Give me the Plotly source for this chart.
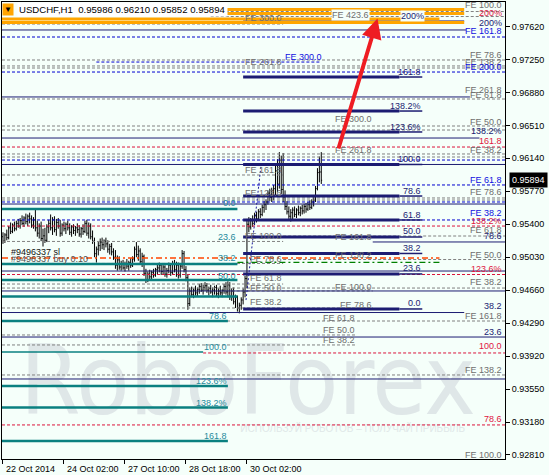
import plotly.graph_objects as go

# ---------------- data ----------------
tick_bars = [0, 32, 64, 96, 128]
tick_labels = ["22 Oct 2014", "24 Oct 02:00", "27 Oct 10:00", "28 Oct 18:00", "30 Oct 02:00"]
price_ticks = [0.97620, 0.97250, 0.96880, 0.96510, 0.96140, 0.95770, 0.95400,
               0.95030, 0.94660, 0.94290, 0.93920, 0.93550, 0.93180, 0.92810]
last_price = 0.95894
header = "USDCHF,H1  0.95986 0.96210 0.95852 0.95894"

opens = [.9526,.9521,.9528,.9525,.9536,.9532,.9539,.9535,.9541,.9538,
         .9544,.9541,.9547,.9543,.9549,.9546,.9539,.9545,.9536,.9530,
         .9538,.9524,.9527,.9522,.9537,.9541,.9536,.9545,.9534,.9542,
         .9538,.9530,.9539,.9535,.9540,.9536,.9531,.9537,.9533,.9536,
         .9534,.9529,.9535,.9532,.9541,.9530,.9538,.9526,.9521,.9507,
         .9512,.9516,.9520,.9517,.9521,.9518,.9512,.9515,.9509,.9503,
         .9494,.9500,.9492,.9496,.9491,.9495,.9493,.9497,.9494,.9501,
         .9512,.9506,.9510,.9498,.9504,.9485,.9478,.9484,.9481,.9486,
         .9483,.9489,.9491,.9494,.9487,.9492,.9484,.9488,.9494,.9486,
         .9496,.9489,.9494,.9483,.9493,.9507,.9489,.9480,.9451,.9465,
         .9461,.9466,.9463,.9467,.9470,.9466,.9469,.9471,.9466,.9468,
         .9464,.9466,.9469,.9462,.9465,.9463,.9466,.9470,.9464,.9472,
         .9459,.9465,.9453,.9458,.9446,.9449,.9455,.9464,.9479,.9540,
         .9537,.9544,.9541,.9550,.9546,.9554,.9551,.9559,.9562,.9565,
         .9575,.9570,.9578,.9580,.9600,.9585,.9612,.9579,.9570,.9560,
         .9554,.9549,.9553,.9556,.9551,.9556,.9553,.9558,.9555,.9560,
         .9557,.9562,.9559,.9565,.9567,.9580,.9598,.95986]
highs = [.9531,.9530,.9534,.9538,.9542,.9541,.9543,.9544,.9546,.9547,
         .9550,.9549,.9552,.9551,.9553,.9550,.9548,.9557,.9544,.9541,
         .9543,.9535,.9536,.9540,.9545,.9551,.9548,.9549,.9546,.9547,
         .9545,.9541,.9543,.9542,.9544,.9541,.9539,.9540,.9538,.9541,
         .9539,.9537,.9540,.9544,.9545,.9542,.9541,.9533,.9525,.9515,
         .9520,.9524,.9525,.9523,.9525,.9522,.9518,.9519,.9513,.9511,
         .9505,.9504,.9499,.9500,.9498,.9501,.9499,.9502,.9504,.9515,
         .9520,.9516,.9513,.9508,.9506,.9490,.9487,.9489,.9488,.9490,
         .9491,.9495,.9497,.9496,.9495,.9494,.9491,.9497,.9496,.9499,
         .9500,.9498,.9497,.9496,.9511,.9510,.9493,.9484,.9469,.9470,
         .9468,.9471,.9469,.9473,.9474,.9472,.9475,.9474,.9470,.9472,
         .9469,.9471,.9472,.9468,.9471,.9467,.9473,.9475,.9476,.9475,
         .9468,.9469,.9461,.9460,.9452,.9458,.9468,.9482,.9546,.9548,
         .9547,.9550,.9553,.9554,.9557,.9558,.9562,.9566,.9568,.9578,
         .9580,.9581,.9584,.9608,.9613,.9621,.9617,.9620,.9578,.9566,
         .9560,.9557,.9559,.9560,.9558,.9561,.9560,.9562,.9563,.9564,
         .9565,.9567,.9568,.9571,.9583,.9603,.9616,.96210]
lows = [.9518,.9519,.9522,.9523,.9529,.9530,.9532,.9533,.9536,.9535,
        .9539,.9537,.9540,.9538,.9541,.9536,.9535,.9532,.9526,.9524,
        .9521,.9515,.9519,.9520,.9530,.9533,.9528,.9531,.9527,.9535,
        .9526,.9527,.9532,.9529,.9533,.9528,.9526,.9529,.9527,.9530,
        .9526,.9525,.9528,.9530,.9527,.9524,.9523,.9518,.9503,.9497,
        .9505,.9510,.9512,.9511,.9514,.9508,.9506,.9505,.9500,.9490,
        .9488,.9489,.9488,.9489,.9487,.9490,.9488,.9491,.9492,.9498,
        .9503,.9499,.9495,.9492,.9482,.9474,.9475,.9477,.9478,.9480,
        .9481,.9484,.9486,.9483,.9484,.9481,.9480,.9485,.9482,.9484,
        .9486,.9481,.9479,.9480,.9490,.9486,.9476,.9444,.9448,.9458,
        .9457,.9460,.9459,.9462,.9464,.9461,.9465,.9463,.9460,.9462,
        .9458,.9461,.9459,.9457,.9460,.9458,.9462,.9461,.9458,.9455,
        .9454,.9450,.9446,.9442,.9440,.9444,.9450,.9458,.9468,.9531,
        .9534,.9537,.9539,.9542,.9544,.9547,.9549,.9553,.9556,.9562,
        .9566,.9565,.9567,.9572,.9576,.9580,.9574,.9565,.9556,.9551,
        .9546,.9543,.9545,.9548,.9547,.9550,.9549,.9551,.9552,.9553,
        .9555,.9556,.9557,.9560,.9565,.9578,.9587,.95852]
closes = [.9521,.9528,.9525,.9536,.9532,.9539,.9535,.9541,.9538,.9544,
          .9541,.9547,.9543,.9549,.9546,.9539,.9545,.9536,.9530,.9538,
          .9524,.9527,.9522,.9537,.9541,.9536,.9545,.9534,.9542,.9538,
          .9530,.9539,.9535,.9540,.9536,.9531,.9537,.9533,.9536,.9534,
          .9529,.9535,.9532,.9541,.9530,.9538,.9526,.9521,.9507,.9512,
          .9516,.9520,.9517,.9521,.9518,.9512,.9515,.9509,.9503,.9494,
          .9500,.9492,.9496,.9491,.9495,.9493,.9497,.9494,.9501,.9512,
          .9506,.9510,.9498,.9504,.9485,.9478,.9484,.9481,.9486,.9483,
          .9489,.9491,.9494,.9487,.9492,.9484,.9488,.9494,.9486,.9496,
          .9489,.9494,.9483,.9493,.9507,.9489,.9480,.9451,.9465,.9461,
          .9466,.9463,.9467,.9470,.9466,.9469,.9471,.9466,.9468,.9464,
          .9466,.9469,.9462,.9465,.9463,.9466,.9470,.9464,.9472,.9459,
          .9465,.9453,.9458,.9446,.9449,.9455,.9464,.9479,.9540,.9537,
          .9544,.9541,.9550,.9546,.9554,.9551,.9559,.9562,.9565,.9575,
          .9570,.9578,.9580,.9600,.9585,.9612,.9579,.9570,.9560,.9554,
          .9549,.9553,.9556,.9551,.9556,.9553,.9558,.9555,.9560,.9557,
          .9562,.9559,.9565,.9567,.9580,.9598,.9599,.95894]

# level lines (price, first bar, last bar)
LB, RB = -0.52, 263.4
teal_prices = [0.95571, 0.94954, 0.94774, 0.94589, 0.94314, 0.93584, 0.93343, 0.92967]
teal_end = [123, 123, 123, 123, 118, 118, 118, 118]
teal100_price = 0.93966
teal100_end = 105

fib_prices = [0.94449, 0.94842, 0.95072, 0.95257, 0.95448, 0.95717, 0.96071, 0.96436, 0.96671, 0.97053]
fib_labels = ["0.0", "23.6", "38.2", "50.0", "61.8", "78.6", "100.0", "123.6%", "138.2%", "161.8"]
fib_label_prices = [0.94515, 0.94908, 0.95133, 0.95324, 0.95504, 0.95773, 0.96132, 0.96492, 0.96727, 0.97109]
fib_start, fib_thick_end, fib_end = 126, 208, 220

navy_prices = [0.97581, 0.96829, 0.96368, 0.96071, 0.95627, 0.95201, 0.94875, 0.94651, 0.94409, 0.94134, 0.93663, 0.97682]
navy_x0 = [LB, LB, LB, LB, LB, 194, LB, LB, LB, LB, LB, 126]
navy_x1 = [243, 245, 250, RB, RB, RB, RB, RB, 242, RB, RB, 242]

blue_prices = [0.97502, 0.97221, 0.97109, 0.96121, 0.95841, 0.95650, 0.95448]
blue_x0 = [LB, 49, LB, LB, LB, LB, LB]
blue_x1 = [RB, 167, RB, RB, RB, RB, RB]

red_prices = [0.96267, 0.95380, 0.94836, 0.93955, 0.93147]
red_x0 = [LB, LB, LB, 105, LB]
red_x1 = [RB, RB, RB, RB, RB]

gray_prices = [0.97788, 0.97732, 0.97648, 0.97244, 0.97177, 0.97154, 0.96806, 0.96503, 0.96458,
               0.96189, 0.96155, 0.95953, 0.95695, 0.95672, 0.95268, 0.95207, 0.95004, 0.94960,
               0.94729, 0.94684, 0.94651, 0.94460, 0.94314, 0.94157, 0.94045, 0.93708]
gray_x0 = [109, 109, LB, LB, LB, LB, LB, LB, LB, LB, LB, LB, LB, LB, 147, LB, 147, LB,
           LB, LB, 120, LB, LB, LB, LB, LB]
gray_x1 = [RB, RB, 147, RB, RB, RB, RB, RB, RB, RB, RB, 147, RB, RB, RB, 147, RB, 147,
           147, RB, 194, 194, RB, 185, 185, RB]

orange_prices = [0.97811, 0.97766, 0.97704, 0.97665]
orange_x0 = [109, 109, LB, LB]
orange_x1 = [242, 242, 229, 242]

sl_price, buy_price = 0.95021, 0.94971
trend_bars = [127.5, 135.4]
trend_prices = [0.94549, 0.96065]
arrow_tail = (175.8, 0.96233)
arrow_head = (196.5, 0.97710)

G, N, Bc, Rc, T = "#6e6e6e", "#1c1c72", "#1010e0", "#e0163f", "#268a9c"
right_texts = ["FE 100.0", "200%", "200%", "FE 161.8", "FE 78.6", "FE 138.2", "FE 200.0", "FE 261.8",
               "FE 61.8", "FE 50.0", "138.2%", "161.8", "FE 38.2", "FE 61.8", "FE 78.6", "FE 38.2",
               "138.2%", "FE 61.8", "78.6", "FE 50.0", "123.6%", "FE 38.2", "38.2", "FE 161.8",
               "23.6", "100.0", "FE 138.2", "78.6", "FE 100.0"]
right_prices = [0.97860, 0.97772, 0.97659, 0.97570, 0.97300, 0.97221, 0.97165, 0.96907,
                0.96851, 0.96546, 0.96445, 0.96333, 0.96233, 0.95897, 0.95762, 0.95526,
                0.95436, 0.95335, 0.95268, 0.95055, 0.94897, 0.94752, 0.94482, 0.94370,
                0.94190, 0.94033, 0.93764, 0.93214, 0.92810]
right_colors = [G, Rc, N, Bc, G, G, Bc, G, G, G, N, Rc, G, Bc, G, Bc, Rc, G, N, G, Rc, G, N, G,
                N, Rc, G, Rc, G]

fe_left_texts = ["FE 300.0", "FE 261.8", "FE 161.8", "FE 123.6", "FE 100.0", "FE 78.6", "FE 61.8", "FE 50.0", "FE 38.2"]
fe_left_prices = [0.97715, 0.97221, 0.96009, 0.95751, 0.95268, 0.95010, 0.94797, 0.94684, 0.94527]
fe_mid_texts = ["FE 300.0", "FE 261.8", "FE 161.8", "FE 138.2", "FE 100.0", "FE 78.6"]
fe_mid_prices = [0.96582, 0.96233, 0.95257, 0.95055, 0.94695, 0.94493]
fe_third_texts = ["FE 61.8", "FE 50.0", "FE 38.2"]
fe_third_prices = [0.94347, 0.94213, 0.94101]

teal_label_texts = ["0.0", "23.6", "38.2", "50.0", "78.6", "100.0", "123.6%", "138.2%", "161.8"]
teal_label_bars = [123, 123, 123, 123, 118, 118, 118, 118, 118]
teal_label_prices = [0.95638, 0.95257, 0.95021, 0.94819, 0.94370, 0.94022, 0.93640, 0.93393, 0.93023]

# ---------------- figure ----------------
BG = "#f5fffa"
FONT = "Liberation Sans, Arial, sans-serif"


def segs(prices, x0s, x1s):
    xs, ys = [], []
    for p, a, b in zip(prices, x0s, x1s):
        xs += [a, b, None]
        ys += [p, p, None]
    return xs, ys


fig = go.Figure()

# watermark
fig.add_trace(go.Scatter(x=[128.5], y=[0.93540], mode="text", text=["RoboForex"],
                         textfont=dict(size=97, color="#dfe7e8",
                                       family="Liberation Sans Narrow, Arial Narrow, DejaVu Sans Condensed, sans-serif"),
                         hoverinfo="skip", showlegend=False))
fig.add_trace(go.Scatter(x=[183.5], y=[0.93091], mode="text",
                         text=["ИСПОЛЬЗУЙ РОБОТОВ – ПОЛУЧАЙ ПРИБЫЛЬ"],
                         textfont=dict(size=10, color="#e0e8e8", family=FONT),
                         hoverinfo="skip", showlegend=False))


def add_lines(prices, x0s, x1s, color, width, dash="solid"):
    xs, ys = segs(prices, x0s, x1s)
    fig.add_trace(go.Scatter(x=xs, y=ys, mode="lines",
                             line=dict(color=color, width=width, dash=dash),
                             hoverinfo="skip", showlegend=False))


add_lines(gray_prices, gray_x0, gray_x1, "#808080", 1, "3px,2px")
add_lines(blue_prices, blue_x0, blue_x1, "#0000d0", 1, "3px,2px")
add_lines(red_prices, red_x0, red_x1, "#dc143c", 1, "3px,2px")
add_lines(navy_prices, navy_x0, navy_x1, "#1c1c72", 1)
add_lines(teal_prices, [LB] * len(teal_prices), teal_end, "#0a8080", 2.5)
add_lines([teal100_price], [LB], [teal100_end], "#0a8080", 1.5)
add_lines(fib_prices, [fib_start] * len(fib_prices), [fib_thick_end] * len(fib_prices), "#1c1c72", 3)
add_lines(fib_prices, [fib_thick_end] * len(fib_prices), [fib_end] * len(fib_prices), "#1c1c72", 1.5)
add_lines(orange_prices, orange_x0, orange_x1, "#ffa500", 3)
add_lines([sl_price], [LB], [229], "#ff4500", 1.3, "6px,3px,2px,3px")
add_lines([buy_price], [123], [229], "#008000", 1.3, "6px,3px,2px,3px")
fig.add_trace(go.Scatter(x=trend_bars, y=trend_prices, mode="lines",
                         line=dict(color="#1c1c9a", width=1, dash="2px,2px"),
                         hoverinfo="skip", showlegend=False))

fig.add_trace(go.Ohlc(x=list(range(len(opens))), open=opens, high=highs, low=lows, close=closes,
                      increasing=dict(line=dict(color="black", width=1)),
                      decreasing=dict(line=dict(color="black", width=1)),
                      tickwidth=0.45, hoverinfo="skip", showlegend=False))

ann = []


def lab(x, y, text, color, xanchor="right", bg=None, size=9):
    d = dict(x=x, y=y, xref="x", yref="y", text=text, showarrow=False,
             xanchor=xanchor, yanchor="middle", font=dict(size=size, color=color, family=FONT),
             borderpad=0)
    if bg:
        d["bgcolor"] = bg
    ann.append(d)


for t, p, c in zip(right_texts, right_prices, right_colors):
    lab(262.5, p, t, c)
for t, p in zip(fe_left_texts, fe_left_prices):
    lab(147, p, t, G)
for t, p in zip(fe_mid_texts, fe_mid_prices):
    lab(194, p, t, G)
for t, p in zip(fe_third_texts, fe_third_prices):
    lab(185, p, t, G)
lab(192.6, 0.97749, "FE 423.6", G, bg=BG)
lab(168, 0.97278, "FE 300.0", Bc)
lab(221.5, 0.97738, "200%", N, bg=BG)
for t, p in zip(fib_labels, fib_label_prices):
    lab(fib_end, p, t, N)
for t, b, p in zip(teal_label_texts, teal_label_bars, teal_label_prices):
    lab(b, p, t, T)
lab(3.7, 0.95088, "#9496337 sl", "#111111", xanchor="left")
lab(3.7, 0.95010, "#9496337 buy 0.10", "#505050", xanchor="left")

# red arrow
ann.append(dict(x=arrow_head[0], y=arrow_head[1], ax=arrow_tail[0], ay=arrow_tail[1],
                xref="x", yref="y", axref="x", ayref="y", text="", showarrow=True,
                arrowhead=2, arrowsize=1, arrowwidth=4, arrowcolor="#ee1d23", standoff=0))

# header
ann.append(dict(x=0.0, y=0.984, xref="paper", yref="paper", text="▼", showarrow=False,
                xanchor="left", yanchor="middle", bgcolor="#ffa500",
                font=dict(size=8, color="black", family=FONT), borderpad=1))
ann.append(dict(x=0.029, y=0.984, xref="paper", yref="paper", text=header, showarrow=False,
                xanchor="left", yanchor="middle", bgcolor="white",
                font=dict(size=9.6, color="black", family=FONT), borderpad=1))

# current price box
ann.append(dict(x=1.008, y=last_price, xref="paper", yref="y", text=f"{last_price:.5f}",
                showarrow=False, xanchor="left", yanchor="middle", bgcolor="black",
                font=dict(size=9, color="white", family=FONT), borderpad=2))

# x tick labels (left aligned, MT4 style)
for b, t in zip(tick_bars, tick_labels):
    ann.append(dict(x=b, y=0, xref="x", yref="paper", text=t, showarrow=False,
                    xanchor="left", yanchor="top", yshift=-3, xshift=1,
                    font=dict(size=9, color="black", family=FONT)))

fig.update_layout(
    width=549, height=475,
    margin=dict(l=2, r=44, t=2, b=16),
    paper_bgcolor=BG, plot_bgcolor=BG,
    showlegend=False,
    annotations=ann,
    font=dict(family=FONT, size=9, color="black"),
)
fig.update_xaxes(range=[LB, RB], tickvals=tick_bars, showticklabels=False,
                 ticks="outside", ticklen=4, tickcolor="black",
                 showgrid=False, zeroline=False, showline=True, mirror=True,
                 linecolor="black", linewidth=1, rangeslider=dict(visible=False))
fig.update_yaxes(range=[0.927648, 0.978950], side="right", tickvals=price_ticks,
                 ticktext=[f"{v:.5f}" for v in price_ticks],
                 ticks="outside", ticklen=4, tickcolor="black",
                 tickfont=dict(size=9, color="black", family=FONT),
                 showgrid=False, zeroline=False, showline=True, mirror=True,
                 linecolor="black", linewidth=1)

fig.write_html("out.html", config={"displayModeBar": False, "staticPlot": True},
               post_script="document.body.style.margin='0';document.body.style.background='" + BG + "';")
